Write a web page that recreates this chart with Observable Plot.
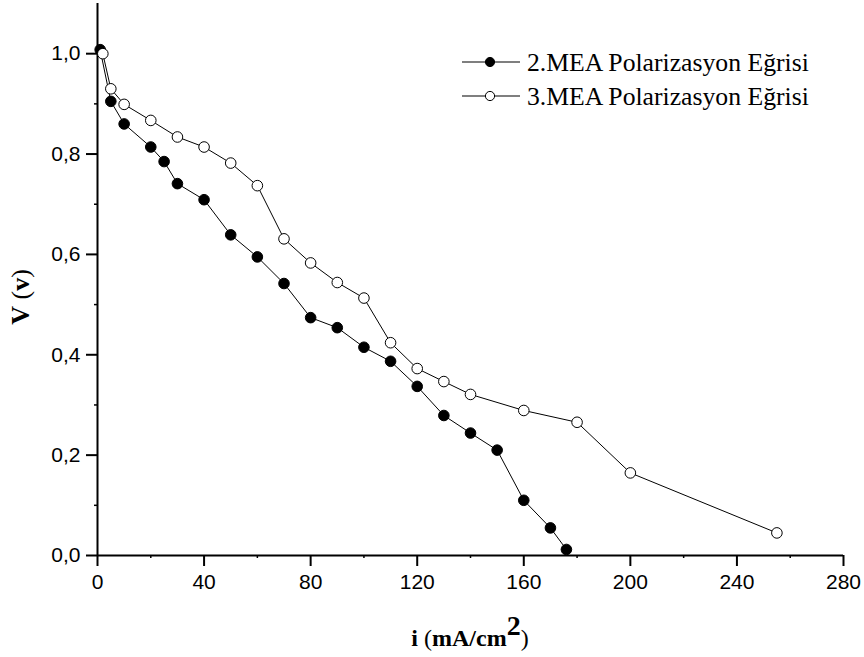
<!DOCTYPE html>
<html>
<head>
<meta charset="utf-8">
<script src="https://cdn.jsdelivr.net/npm/d3@7"></script>
<script src="https://cdn.jsdelivr.net/npm/@observablehq/plot@0.6"></script>
<style>
  html, body { margin: 0; padding: 0; background: white; }
  #chart { width: 864px; height: 657px; }
</style>
</head>
<body>
<div id="chart"></div>
<script>
// ---- data ----
const mea2I = [1, 5, 10, 20, 25, 30, 40, 50, 60, 70, 80, 90, 100, 110, 120, 130, 140, 150, 160, 170, 176];
const mea2V = [1.008, 0.905, 0.86, 0.814, 0.785, 0.741, 0.709, 0.639, 0.595, 0.542, 0.474, 0.454, 0.415, 0.387, 0.337, 0.279, 0.244, 0.21, 0.11, 0.055, 0.012];
const mea3I = [2, 5, 10, 20, 30, 40, 50, 60, 70, 80, 90, 100, 110, 120, 130, 140, 160, 180, 200, 255];
const mea3V = [1.0, 0.93, 0.899, 0.867, 0.834, 0.814, 0.782, 0.737, 0.631, 0.583, 0.544, 0.513, 0.424, 0.3725, 0.3466, 0.321, 0.289, 0.2655, 0.1646, 0.045];
const seriesNames = ["2.MEA Polarizasyon Eğrisi", "3.MEA Polarizasyon Eğrisi"];
const xTicks = [0, 40, 80, 120, 160, 200, 240, 280];
const xMinor = [20, 60, 100, 140, 180, 220, 260];
const yTicks = [0, 0.2, 0.4, 0.6, 0.8, 1.0];
const yMinor = [0.1, 0.3, 0.5, 0.7, 0.9];
const xDomain = [0, 280];
const yDomain = [0, 1.1];

const s2 = mea2I.map((x, i) => ({x, y: mea2V[i]}));
const s3 = mea3I.map((x, i) => ({x, y: mea3V[i]}));
const fmt = d => d.toFixed(1).replace(".", ",");

const chart = Plot.plot({
  width: 864,
  height: 657,
  marginLeft: 97,
  marginRight: 21,
  marginTop: 3,
  marginBottom: 102,
  x: {domain: xDomain},
  y: {domain: yDomain},
  style: {fontFamily: "'Liberation Sans', Arial, sans-serif", fontSize: "21px", color: "black", background: "white", overflow: "visible"},
  marks: [
    Plot.axisX(xTicks, {tickSize: 11, tickPadding: 8, tickFormat: d => String(d), label: null, strokeWidth: 2, stroke: "black", fill: "black", fontSize: 21}),
    Plot.axisX(xMinor, {tickSize: 3, tickFormat: () => "", label: null, strokeWidth: 1.5, stroke: "black"}),
    Plot.axisY(yTicks, {tickSize: 11, tickPadding: 6, tickFormat: fmt, label: null, strokeWidth: 2, stroke: "black", fill: "black", fontSize: 21}),
    Plot.axisY(yMinor, {tickSize: 3, tickFormat: () => "", label: null, strokeWidth: 1.5, stroke: "black"}),
    Plot.ruleY([yDomain[0]], {stroke: "black", strokeWidth: 2}),
    Plot.ruleX([xDomain[0]], {stroke: "black", strokeWidth: 2}),
    Plot.line(s2, {x: "x", y: "y", stroke: "black", strokeWidth: 1}),
    Plot.dot(s2, {x: "x", y: "y", r: 5.3, fill: "black", stroke: "black", strokeWidth: 1}),
    Plot.line(s3, {x: "x", y: "y", stroke: "black", strokeWidth: 1}),
    Plot.dot(s3, {x: "x", y: "y", r: 5.3, fill: "white", stroke: "black", strokeWidth: 1})
  ]
});
document.getElementById("chart").appendChild(chart);

// ---- axis titles and legend drawn into the same SVG ----
const svg = d3.select(chart);
const serif = "'Liberation Serif', 'Times New Roman', serif";

// x title: i (mA/cm²)
const xt = svg.append("text")
  .attr("x", 470).attr("y", 646)
  .attr("text-anchor", "middle")
  .attr("font-family", serif).attr("font-size", 24).attr("fill", "black");
xt.append("tspan").attr("font-weight", "bold").text("i");
xt.append("tspan").text(" (");
xt.append("tspan").attr("font-weight", "bold").text("mA/cm");
xt.append("tspan").attr("font-weight", "bold").attr("font-size", 28).attr("dy", -11).text("2");
xt.append("tspan").attr("dy", 11).text(")");

// y title: V (v)
const yt = svg.append("text")
  .attr("transform", "translate(29,297) rotate(-90)")
  .attr("text-anchor", "middle")
  .attr("font-family", serif).attr("font-size", 26).attr("fill", "black");
yt.append("tspan").attr("font-weight", "bold").text("V");
yt.append("tspan").text(" (");
yt.append("tspan").attr("font-weight", "bold").text("v");
yt.append("tspan").text(")");

// legend
const legendFill = ["black", "white"];
const lg = svg.append("g").attr("text-anchor", "start");
seriesNames.forEach((name, i) => {
  const y = 62 + i * 34;
  lg.append("line").attr("x1", 462).attr("x2", 520).attr("y1", y).attr("y2", y)
    .attr("stroke", "black").attr("stroke-width", 1.2);
  lg.append("circle").attr("cx", 490).attr("cy", y).attr("r", 4.6)
    .attr("fill", legendFill[i]).attr("stroke", "black").attr("stroke-width", 1);
  lg.append("text").attr("x", 527).attr("y", y).attr("dy", "0.35em")
    .attr("text-anchor", "start")
    .attr("font-family", serif).attr("font-size", 25.7).attr("fill", "black").text(name);
});
</script>
</body>
</html>
